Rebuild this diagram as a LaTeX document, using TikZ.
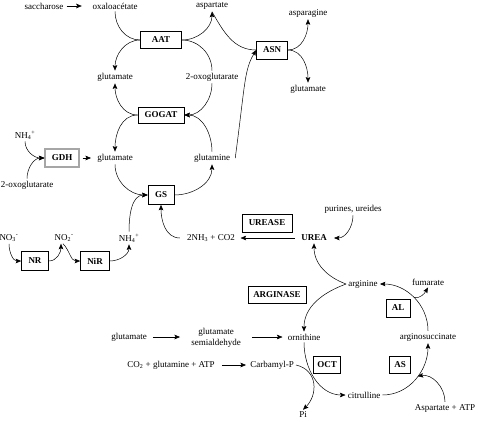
\documentclass[tikz,border=0pt]{standalone}
\usepackage{fontspec}
\setmainfont{Liberation Serif}
\usetikzlibrary{arrows.meta}
\begin{document}
\begin{tikzpicture}[x=1pt,y=1pt,line width=0.5pt,
  every node/.style={font=\fontsize{9}{11}\selectfont, inner sep=2pt},
  ebox/.style={draw, line width=0.6pt, font=\fontsize{9}{11}\selectfont\bfseries, minimum height=17pt, inner xsep=3pt, inner ysep=0pt},
  gdhbox/.style={draw=gray!70, line width=1.1pt},
  boldtxt/.style={font=\fontsize{9}{11}\selectfont\bfseries},
  arr/.style={-{Stealth[length=5.5pt,width=4.5pt,inset=1pt]}}]
\useasboundingbox (0,0) rectangle (478,-421);
% nodes
\node (sacch) at (44,-6) {saccharose};
\node (oxalo) at (115,-6) {oxaloacétate};
\node (asp) at (212,-6) {aspartate};
\node (aspg) at (308,-13) {asparagine};
\node[ebox, minimum width=41pt] (AAT) at (161,-40) {AAT};
\node (glu1) at (115,-77) {glutamate};
\node (oxo1) at (212,-77) {2-oxoglutarate};
\node[ebox, minimum width=31pt, minimum height=18pt] (ASN) at (272,-50) {ASN};
\node (glu2) at (308,-89) {glutamate};
\node[ebox, minimum width=46pt, minimum height=16pt] (GOGAT) at (161,-115) {GOGAT};
\node (nh4a) at (25,-135) {NH\textsubscript{4}\textsuperscript{+}};
\node[ebox, gdhbox, minimum width=34pt, minimum height=18pt] (GDH) at (62,-158) {GDH};
\node (glu3) at (115,-158) {glutamate};
\node (gln) at (212,-158) {glutamine};
\node (oxo2) at (27,-185) {2-oxoglutarate};
\node[ebox, minimum width=26pt, minimum height=19pt] (GS) at (161,-195) {GS};
\node (pur) at (353,-209) {purines, ureides};
\node[ebox, minimum width=50pt, minimum height=18pt] (UREASE) at (267,-223) {UREASE};
\node (nh3) at (211,-238) {2NH\textsubscript{3} + CO2};
\node[boldtxt] (urea) at (314,-238) {UREA};
\node (no3) at (9,-238) {NO\textsubscript{3}\textsuperscript{-}};
\node (no2) at (64,-238) {NO\textsubscript{2}\textsuperscript{-}};
\node (nh4b) at (129,-238) {NH\textsubscript{4}\textsuperscript{+}};
\node[ebox, minimum width=27pt, minimum height=19pt] (NR) at (35,-261) {NR};
\node[ebox, minimum width=29pt, minimum height=19pt] (NiR) at (95,-261) {NiR};
\node (arg) at (363,-284) {arginine};
\node (fum) at (428,-282) {fumarate};
\node[ebox, minimum width=58pt] (ARGI) at (277,-295) {ARGINASE};
\node[ebox, minimum width=24pt, minimum height=18pt] (AL) at (398,-308) {AL};
\node (glu4) at (129,-337) {glutamate};
\node[align=center] (gsa) at (216,-338) {glutamate\\semialdehyde};
\node (orn) at (304,-337) {ornithine};
\node (asuc) at (428,-337) {arginosuccinate};
\node (co2) at (171,-365) {CO\textsubscript{2} + glutamine + ATP};
\node (carb) at (272,-365) {Carbamyl-P};
\node[ebox, minimum width=27pt] (OCT) at (327,-365) {OCT};
\node[ebox, minimum width=21pt] (AS) at (400,-365) {AS};
\node (cit) at (364,-395) {citrulline};
\node (pi) at (303,-415) {Pi};
\node (aspatp) at (445,-408) {Aspartate + ATP};
% top part
\draw[arr, shorten <=1pt, shorten >=8.5pt] (sacch) -- (oxalo);
\draw (oxalo.south) to[out=-90,in=180] (AAT.west);
\draw[arr] (AAT.west) to[out=180,in=90] (glu1.north);
\draw[arr] (AAT.east) to[out=0,in=-90] (asp.south);
\draw (oxo1.north) to[out=90,in=0] (AAT.east);
\draw (asp.south) to[out=-60,in=180] (ASN.west);
\draw[arr] ([xshift=3pt]gln.east) .. controls +(10,75) and +(-12,-20) .. (ASN.west);
\draw[arr] (ASN.east) to[out=0,in=-90] (aspg.south);
\draw[arr] (ASN.east) to[out=0,in=90] (glu2.north);
\draw[arr] (GOGAT.west) to[out=180,in=-90] (glu1.south);
\draw[arr] (GOGAT.west) to[out=180,in=90] (glu3.north);
\draw[arr] (oxo1.south) to[out=-90,in=0] (GOGAT.east);
\draw[arr] (gln.north) to[out=90,in=0] (GOGAT.east);
% GDH
\draw[arr] (nh4a.south) to[out=-90,in=180] (GDH.west);
\draw[arr] (oxo2.north) to[out=90,in=180] (GDH.west);
\draw[arr, shorten <=3pt, shorten >=4pt] (GDH) -- (glu3);
% GS
\draw[arr] (glu3.south) to[out=-90,in=180] (GS.west);
\draw[arr] (GS.east) to[out=0,in=-90] (gln.south);
\draw[arr] (nh4b.north) to[out=90,in=180] (GS.west);
\draw[arr] ([xshift=-5pt]nh3.west) to[out=180,in=-90] (GS.south);
% urea
\draw[arr, shorten <=4.5pt, shorten >=3.5pt] (urea) -- (nh3);
\draw[arr] (pur.south) to[out=-90,in=0] ([xshift=5pt]urea.east);
% nitrate
\draw[arr] (no3.south) to[out=-90,in=180] (NR.west);
\draw[arr] (NR.east) to[out=0,in=-90] ([xshift=-3pt]no2.south);
\draw[arr] ([xshift=-1pt]no2.south) to[out=-45,in=180] (NiR.west);
\draw[arr] (NiR.east) to[out=0,in=-90] (nh4b.south);
% urea cycle
\draw[arr] (arg.west) to[out=160,in=-90] (urea.south);
\draw[arr] (arg.west) to[out=200,in=90] (orn.north);
\draw[arr] (orn.south) to[out=-90,in=180] (cit.west);
\draw[arr] (cit.east) to[out=0,in=-90] coordinate[pos=0.55] (ab) (asuc.south);
\draw[arr] (asuc.north) to[out=90,in=0] coordinate[pos=0.5] (fb) (arg.east);
\draw[arr] (fb) to[out=-10,in=-120] (fum.south);
\draw[arr] (aspatp.north) to[out=90,in=10] (ab);
\draw[arr] (carb.east) .. controls +(22,-5) and +(15,15) .. (pi.north);
\draw[arr, shorten <=5pt, shorten >=2pt] (co2) -- (carb);
\draw[arr] ([xshift=4pt]glu4.east) -- ([xshift=-9pt]glu4.east -| gsa.west);
\draw[arr] ([xshift=9pt]gsa.east |- orn.west) -- ([xshift=-3pt]orn.west);
\end{tikzpicture}
\end{document}
